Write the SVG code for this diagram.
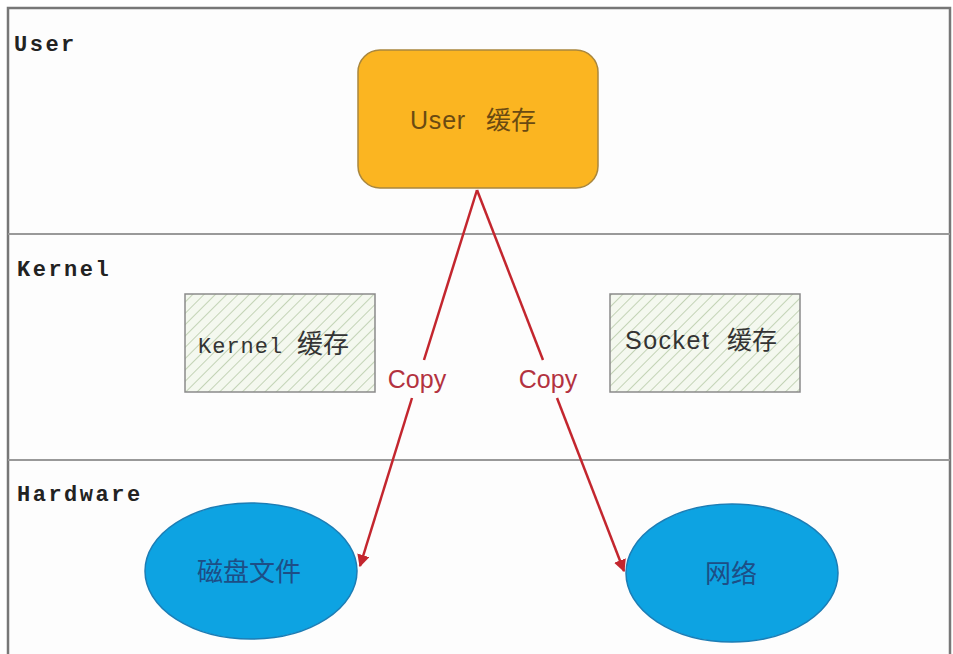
<svg xmlns="http://www.w3.org/2000/svg" width="953" height="654" viewBox="0 0 953 654">
<style>
.lane{font-family:"Liberation Mono","DejaVu Sans Mono",monospace;font-weight:bold;font-size:22px;fill:#222;letter-spacing:2.5px}
.sans{font-family:"Liberation Sans","Noto Sans CJK SC",sans-serif}
.cjk{font-family:"Noto Sans CJK SC",sans-serif}
.copy{font-family:"Liberation Sans",sans-serif;font-size:25px;fill:#B3323F;text-anchor:middle}
.hatch{fill:url(#hatch);stroke:#8a8a8a;stroke-width:1.5}
.ell{fill:#0DA3E2;stroke:#1C7DB5;stroke-width:1.5}
.ellt{font-family:"Noto Sans CJK SC",sans-serif;font-size:26px;fill:#1D4E86;text-anchor:middle}
.conn{stroke:#C3262E;stroke-width:2.5;fill:none}
</style>
<defs>
<pattern id="hatch" width="8" height="8" patternUnits="userSpaceOnUse" patternTransform="rotate(45)">
<rect width="8" height="8" fill="#F4F8EF"/>
<line x1="0" y1="0" x2="0" y2="8" stroke="#A9BF98" stroke-width="1.3"/>
</pattern>
<marker id="arr" viewBox="0 0 10 10" refX="9" refY="5" markerWidth="5" markerHeight="5" orient="auto" markerUnits="strokeWidth">
<path d="M0,0 L10,5 L0,10 z" fill="#C3262E"/>
</marker>
</defs>
<rect width="953" height="654" fill="#fff"/>
<g id="frame">
<rect x="8" y="8" width="942" height="660" fill="#fdfdfd" stroke="#777" stroke-width="2.5"/>
<line x1="8" y1="234" x2="950" y2="234" stroke="#999" stroke-width="2"/>
<line x1="8" y1="460" x2="950" y2="460" stroke="#999" stroke-width="2"/>
<text class="lane" x="14" y="51">User</text>
<text class="lane" x="17" y="276">Kernel</text>
<text class="lane" x="17" y="501">Hardware</text>
</g>
<g id="connectors">
<line class="conn" x1="477" y1="190" x2="424" y2="360"/>
<line class="conn" x1="412" y1="398" x2="360" y2="566" marker-end="url(#arr)"/>
<line class="conn" x1="477" y1="190" x2="543" y2="360"/>
<line class="conn" x1="557" y1="398" x2="624" y2="571" marker-end="url(#arr)"/>
<text class="copy" x="417" y="388">Copy</text>
<text class="copy" x="548" y="388">Copy</text>
</g>
<g id="user-cache">
<rect x="358" y="50" width="240" height="138" rx="22" fill="#FBB521" stroke="#A9873E" stroke-width="1.5"/>
<text y="129" font-size="25" fill="#6A4A12"><tspan class="sans" x="410" letter-spacing="0.8">User</tspan><tspan class="cjk" x="486">缓存</tspan></text>
</g>
<g id="kernel-cache">
<rect class="hatch" x="185" y="294" width="190" height="98"/>
<text y="353" fill="#333"><tspan x="198" font-family="Liberation Mono, monospace" font-size="22" letter-spacing="1">Kernel</tspan><tspan class="cjk" x="297" font-size="26">缓存</tspan></text>
</g>
<g id="socket-cache">
<rect class="hatch" x="610" y="294" width="190" height="98"/>
<text y="349" font-size="25" fill="#333"><tspan class="sans" x="625" letter-spacing="1.5">Socket</tspan><tspan class="cjk" x="727">缓存</tspan></text>
</g>
<g id="disk">
<ellipse class="ell" cx="251" cy="571" rx="106" ry="68"/>
<text class="ellt" x="249" y="581">磁盘文件</text>
</g>
<g id="network">
<ellipse class="ell" cx="732" cy="573" rx="106" ry="69"/>
<text class="ellt" x="731" y="583">网络</text>
</g>
</svg>
